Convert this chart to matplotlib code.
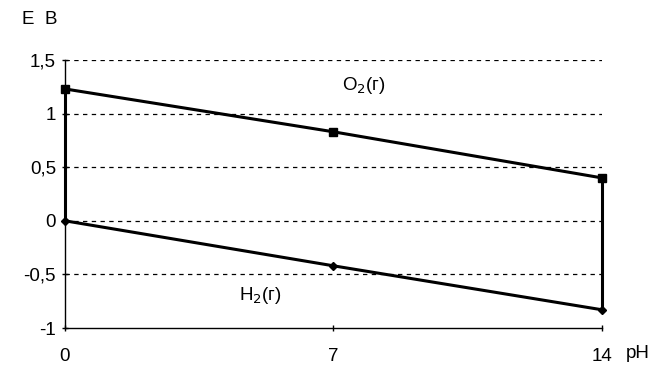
import matplotlib
matplotlib.use("Agg")
import matplotlib.pyplot as plt

plt.rcParams['font.family'] = ['Liberation Sans', 'DejaVu Sans']

ph = [0, 7, 14]
o2_E = [1.23, 0.83, 0.40]
h2_E = [0.0, -0.42, -0.83]
yticks = [-1, -0.5, 0, 0.5, 1, 1.5]
ytick_labels = ["-1", "-0,5", "0", "0,5", "1", "1,5"]
xticks = [0, 7, 14]
xtick_labels = ["0", "7", "14"]

fs = 13.5
fig = plt.figure(figsize=(6.59, 3.71), dpi=100)
ax = fig.add_axes([0.0986, 0.1159, 0.8149, 0.7224])

for y in yticks[1:]:
    ax.axhline(y, color='black', lw=0.9, ls=(0, (3.5, 3.5)), zorder=1)

ax.plot(ph, o2_E, color='black', lw=2.2, marker='s', ms=6, zorder=3, clip_on=False)
ax.plot(ph, h2_E, color='black', lw=2.2, marker='D', ms=4, zorder=3, clip_on=False)
ax.plot([ph[0], ph[0]], [o2_E[0], h2_E[0]], color='black', lw=2.2, zorder=3, clip_on=False)
ax.plot([ph[-1], ph[-1]], [o2_E[-1], h2_E[-1]], color='black', lw=2.2, zorder=3, clip_on=False)

ax.set_xlim(0, 14)
ax.set_ylim(-1, 1.5)
ax.set_yticks(yticks)
ax.set_yticklabels(ytick_labels, fontsize=fs)
ax.set_xticks(xticks)
ax.set_xticklabels(xtick_labels, fontsize=fs)
ax.tick_params(axis='y', length=5, width=1, direction='inout', pad=4)
ax.tick_params(axis='x', length=5, width=1, direction='inout', pad=12)
for s in ['top', 'right']:
    ax.spines[s].set_visible(False)
ax.spines['left'].set_linewidth(1)
ax.spines['bottom'].set_linewidth(1)

ax.text(7.8, 1.26, r"O$_2$(г)", fontsize=fs, ha='center', va='center')
ax.text(5.1, -0.70, r"H$_2$(г)", fontsize=fs, ha='center', va='center')
fig.text(40/659, 1 - 20/371, "E  B", fontsize=fs, ha='center', va='center')
fig.text(638/659, 1 - 353/371, "pH", fontsize=fs, ha='center', va='center')

fig.savefig("out.png", dpi=100)
